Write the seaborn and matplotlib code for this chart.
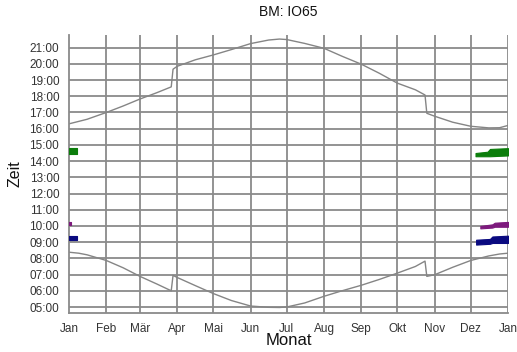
import numpy as np
import pandas as pd
import seaborn as sb
import matplotlib
matplotlib.use("Agg")
import matplotlib.pyplot as plt
from matplotlib.ticker import FixedLocator, MultipleLocator

# month starts (day of year) and German labels
month_days = [0, 31, 59, 90, 120, 151, 181, 212, 243, 273, 304, 334, 365]
month_labels = ["Jan", "Feb", "Mär", "Apr", "Mai", "Jun", "Jul", "Aug", "Sep", "Okt", "Nov", "Dez", "Jan"]
hour_labels = ["%02d:00" % h for h in range(5, 22)]

# sunset (day of year, hour)
sunset_day = [0, 15, 31, 45, 59, 73, 85, 86.5, 90, 105, 120, 135, 151, 166, 175, 181,
              196, 212, 227, 243, 258, 273, 288, 296, 297.5, 304, 319, 334, 349, 358, 365]
sunset_hr = [16.30, 16.58, 17.00, 17.40, 17.83, 18.22, 18.58, 19.67, 19.85, 20.25, 20.55, 20.88, 21.25, 21.47, 21.53, 21.50,
             21.26, 20.96, 20.47, 19.98, 19.42, 18.81, 18.40, 18.08, 16.95, 16.77, 16.40, 16.15, 16.05, 16.06, 16.20]

# sunrise (day of year, hour)
sunrise_day = [0, 8, 15, 31, 45, 59, 73, 85, 86.5, 90, 105, 120, 135, 151, 166, 175, 181,
               196, 212, 227, 243, 258, 273, 288, 296, 297.5, 304, 319, 334, 349, 358, 365]
sunrise_hr = [8.38, 8.32, 8.22, 7.87, 7.42, 6.89, 6.42, 6.00, 6.95, 6.82, 6.32, 5.83, 5.40, 5.06, 4.98, 4.97, 5.00,
              5.25, 5.66, 6.00, 6.34, 6.70, 7.09, 7.50, 7.83, 6.89, 6.99, 7.45, 7.87, 8.15, 8.27, 8.32]

# coloured bands: (days, lower hour, upper hour)
green_dec_day = [338, 348, 350, 365]
green_dec_lo = [14.30, 14.30, 14.30, 14.35]
green_dec_hi = [14.50, 14.58, 14.75, 14.80]
green_jan_day = [0, 6.5]
green_jan_lo = [14.45, 14.45]
green_jan_hi = [14.80, 14.80]

purple_dec_day = [342, 352, 354, 365]
purple_dec_lo = [9.85, 9.90, 9.95, 9.95]
purple_dec_hi = [10.00, 10.10, 10.20, 10.25]
purple_jan_day = [0, 1.5]
purple_jan_lo = [10.06, 10.06]
purple_jan_hi = [10.22, 10.22]

blue_dec_day = [338.5, 350, 352, 365]
blue_dec_lo = [8.85, 8.90, 8.95, 8.95]
blue_dec_hi = [9.15, 9.20, 9.35, 9.40]
blue_jan_day = [0, 6.5]
blue_jan_lo = [9.14, 9.14]
blue_jan_hi = [9.40, 9.40]

sb.set_style("white")
plt.rcParams['font.family'] = ['Liberation Sans', 'DejaVu Sans']

fig = plt.figure(figsize=(5.17, 3.52), dpi=100)
ax = fig.add_axes([69/517, 1-313/352, (508-69)/517, (313-35)/352])

grid_col = "#8a8a8a"
for d in month_days[1:]:
    ax.axvline(d, color=grid_col, lw=1.3, zorder=0)
for h in range(5, 22):
    ax.axhline(h, color=grid_col, lw=1.3, zorder=0)

line_col = "#858585"
sb.lineplot(x=sunset_day, y=sunset_hr, estimator=None, sort=False, color=line_col, lw=1.0, ax=ax)
sb.lineplot(x=sunrise_day, y=sunrise_hr, estimator=None, sort=False, color=line_col, lw=1.0, ax=ax)

bands = [
    (green_dec_day, green_dec_lo, green_dec_hi, "#0b7d0b"),
    (green_jan_day, green_jan_lo, green_jan_hi, "#0b7d0b"),
    (purple_dec_day, purple_dec_lo, purple_dec_hi, "#7d1a7d"),
    (purple_jan_day, purple_jan_lo, purple_jan_hi, "#7d1a7d"),
    (blue_dec_day, blue_dec_lo, blue_dec_hi, "#0a0a80"),
    (blue_jan_day, blue_jan_lo, blue_jan_hi, "#0a0a80"),
]
for days, lo, hi, c in bands:
    ax.fill_between(days, lo, hi, color=c, lw=0.8, edgecolor=c, zorder=3)

ax.set_xlim(0, 365)
ax.set_ylim(4.63, 21.78)

# minor x ticks: roughly weekly within each month
minor_x = []
for a, b in zip(month_days[:-1], month_days[1:]):
    n = int(round((b - a) / 6.5))
    minor_x += list(np.linspace(a, b, n + 1)[1:-1])
ax.set_xticks(month_days)
ax.set_xticklabels(month_labels)
ax.xaxis.set_minor_locator(FixedLocator(minor_x))
ax.set_yticks(range(5, 22))
ax.set_yticklabels(hour_labels)
ax.yaxis.set_minor_locator(MultipleLocator(1/6))

ax.tick_params(axis="x", which="major", direction="inout", length=8, width=1, color=grid_col,
               labelsize=8.5, labelcolor="#333333", pad=3)
ax.tick_params(axis="x", which="minor", direction="inout", length=5, width=1, color=grid_col)
ax.tick_params(axis="y", which="major", direction="out", length=5, width=1, color=grid_col,
               labelsize=8.5, labelcolor="#333333", pad=2)
ax.tick_params(axis="y", which="minor", direction="out", length=3, width=0.9, color=grid_col)

for s in ["top", "right"]:
    ax.spines[s].set_visible(False)
for s in ["left", "bottom"]:
    ax.spines[s].set_color(grid_col)
    ax.spines[s].set_linewidth(1.3)

ax.set_xlabel("Monat", fontsize=12, color="#111111", labelpad=-1)
ax.set_ylabel("Zeit", fontsize=11.5, color="#111111", labelpad=5)
ax.set_title("BM: IO65", fontsize=10, color="#111111", pad=14)

fig.savefig("out.png", dpi=100)
